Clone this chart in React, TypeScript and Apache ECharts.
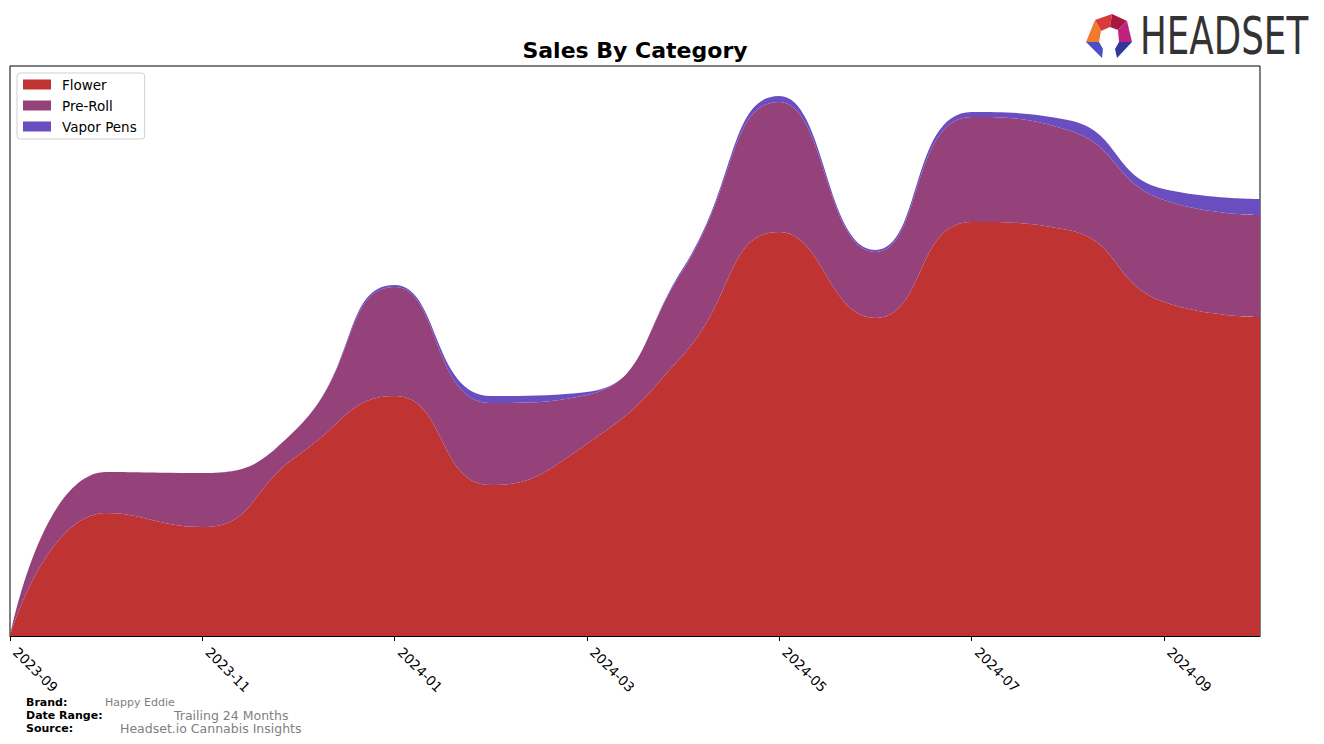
import React, { useEffect, useRef } from "react";
import * as echarts from "echarts";

const months = [
  "2023-09", "2023-10", "2023-11", "2023-12", "2024-01", "2024-02", "2024-03",
  "2024-04", "2024-05", "2024-06", "2024-07", "2024-08", "2024-09", "2024-10",
];
const flower = [0, 123, 109, 181, 240, 151, 192, 281, 404, 318, 414, 406, 334, 319];
const preRoll = [0, 41, 54, 28, 109, 82, 49, 85, 130, 66, 105, 100, 102, 102];
const vaporPens = [0, 0, 0, 0, 2, 7, 3, 2, 6, 2, 5, 10, 11, 16];

const seriesNames = ["Flower", "Pre-Roll", "Vapor Pens"];
const seriesColors = ["#c03333", "#96427a", "#6a4ec0"];
const seriesData = [flower, preRoll, vaporPens];

const footerLabels = ["Brand:", "Date Range:", "Source:"];
const footerValues = ["Happy Eddie", "Trailing 24 Months", "Headset.io Cannabis Insights"];

const FONT = "DejaVu Sans";

export default function App() {
  const ref = useRef<HTMLDivElement>(null);

  useEffect(() => {
    const chart = echarts.init(ref.current!, null, { renderer: "svg" });

    const logoPolys: Array<[number[][], string]> = [
      [[[1095, 20], [1112, 14], [1110, 27], [1101, 31]], "#d93a3a"],
      [[[1112, 14], [1127, 21], [1118, 30], [1110, 27]], "#a8183e"],
      [[[1095, 20], [1101, 31], [1099, 42], [1086, 42]], "#f07b2f"],
      [[[1127, 21], [1132, 42], [1119, 42], [1118, 30]], "#c0207f"],
      [[[1086, 42], [1099, 42], [1103, 49], [1102, 58]], "#4a4fc8"],
      [[[1119, 42], [1132, 42], [1117, 58], [1115, 49]], "#33379c"],
    ];

    const footerY = [702, 715.5, 728];
    const footerValX = [105, 174, 120];
    const footerValSize = [11, 12.5, 12.5];

    chart.setOption({
      animation: false,
      backgroundColor: "#ffffff",
      grid: {
        left: 10,
        right: 64,
        top: 66,
        bottom: 108,
        show: true,
        borderColor: "#000",
        borderWidth: 1,
        backgroundColor: "transparent",
      },
      legend: {
        data: seriesNames,
        orient: "vertical",
        left: 17,
        top: 73,
        icon: "rect",
        itemWidth: 28,
        itemHeight: 10,
        itemGap: 6,
        padding: [4, 8, 5, 6],
        borderColor: "#d0d0d0",
        borderWidth: 1,
        borderRadius: 3,
        backgroundColor: "rgba(255,255,255,0.85)",
        textStyle: {
          fontSize: 13.5,
          fontFamily: FONT,
          color: "#000",
          lineHeight: 15,
          padding: [0, 0, 0, 6],
        },
      },
      xAxis: {
        type: "category",
        data: months,
        boundaryGap: false,
        axisLine: { show: true, lineStyle: { color: "#000", width: 1 } },
        axisTick: { show: true, interval: 1, length: 5, lineStyle: { color: "#000" } },
        axisLabel: {
          interval: 1,
          rotate: -45,
          fontSize: 13.5,
          fontFamily: FONT,
          color: "#000",
          margin: 8,
          padding: [0, 0, 0, 8],
        },
        splitLine: { show: false },
      },
      yAxis: {
        type: "value",
        min: 0,
        max: 570,
        show: false,
        splitLine: { show: false },
      },
      series: seriesNames.map((name, i) => ({
        name,
        type: "line",
        stack: "total",
        smooth: 0.5,
        symbol: "none",
        showSymbol: false,
        lineStyle: { width: 0, color: seriesColors[i] },
        itemStyle: { color: seriesColors[i] },
        areaStyle: { color: seriesColors[i], opacity: 1 },
        data: seriesData[i],
      })),
      graphic: [
        {
          type: "text",
          x: 635,
          y: 50,
          style: {
            text: "Sales By Category",
            fontSize: 22,
            fontWeight: "bold",
            fontFamily: FONT,
            fill: "#000",
            textAlign: "center",
            textVerticalAlign: "middle",
          },
        },
        {
          type: "text",
          x: 1140,
          y: 37,
          scaleX: 0.686,
          style: {
            text: "HEADSET",
            fontSize: 52,
            fontFamily: FONT,
            fill: "#333333",
            textAlign: "left",
            textVerticalAlign: "middle",
          },
        },
        ...logoPolys.map(([pts, color]) => ({
          type: "polygon",
          shape: { points: pts },
          style: { fill: color },
        })),
        ...footerLabels.map((t, i) => ({
          type: "text",
          x: 26,
          y: footerY[i],
          style: {
            text: t,
            fontSize: 11,
            fontWeight: "bold",
            fontFamily: FONT,
            fill: "#000",
            textAlign: "left",
            textVerticalAlign: "middle",
          },
        })),
        ...footerValues.map((t, i) => ({
          type: "text",
          x: footerValX[i],
          y: footerY[i],
          style: {
            text: t,
            fontSize: footerValSize[i],
            fontFamily: FONT,
            fill: "#808080",
            textAlign: "left",
            textVerticalAlign: "middle",
          },
        })),
      ],
    });

    return () => chart.dispose();
  }, []);

  return (
    <div
      ref={ref}
      style={{ position: "fixed", left: 0, top: 0, width: 1324, height: 744, background: "#fff" }}
    />
  );
}
